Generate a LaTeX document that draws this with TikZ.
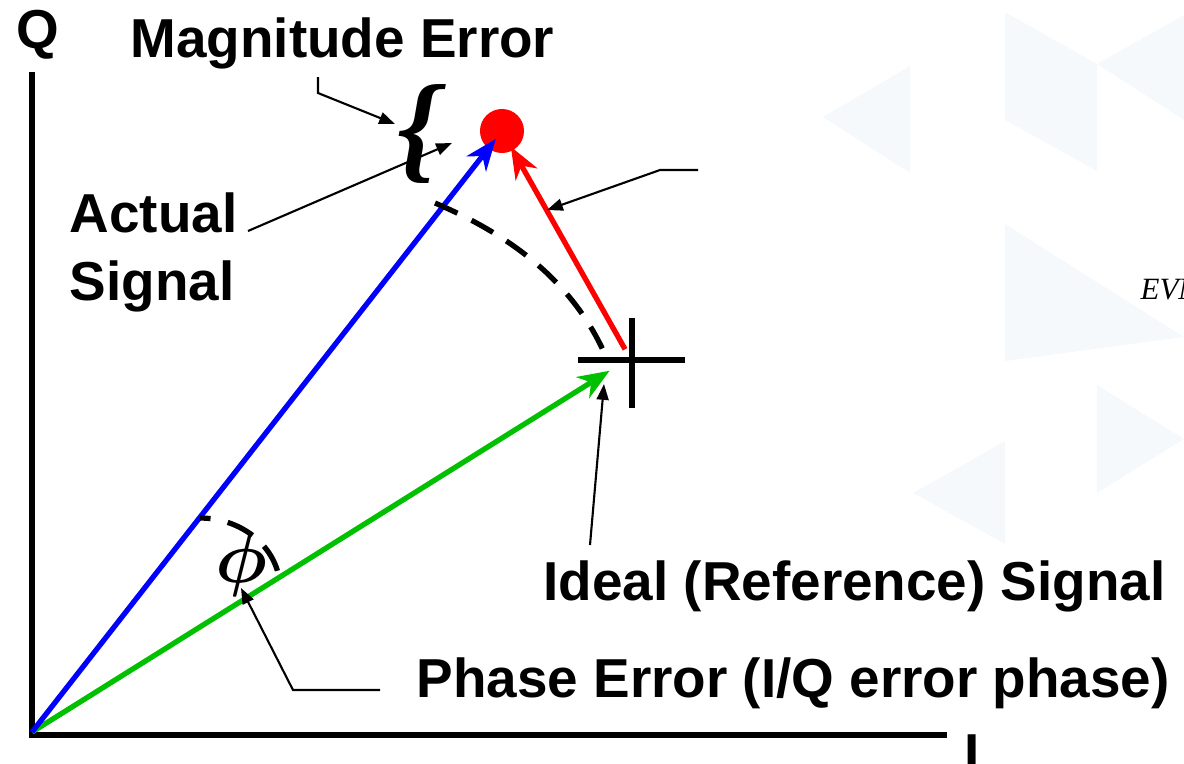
\documentclass[tikz,border=0pt]{standalone}
\usepackage{fontspec}
\setmainfont{Liberation Sans}
\newfontfamily\timesfont{Liberation Serif}
\usetikzlibrary{arrows.meta, positioning, calc}
\definecolor{vecblue}{HTML}{0000FF}
\definecolor{vecgreen}{HTML}{00C000}
\definecolor{errred}{HTML}{FF0000}
\definecolor{wmark}{HTML}{F6F9FC}

\begin{document}
\begin{tikzpicture}[x=0.01cm, y=-0.01cm, line width=1.5pt,
  lbl/.style={font=\fontsize{15.6}{19}\selectfont\bfseries, inner sep=0pt, anchor=base west},
  vec/.style={-{Stealth[length=9pt, width=7pt, inset=2.8pt]}, line width=1.5pt},
  leader/.style={-{Triangle[length=4.5pt, width=3.4pt]}, line width=0.6pt},
  arcdash/.style={dash pattern=on 7pt off 4.5pt, line width=1.5pt}]

\useasboundingbox (0,0) rectangle (1184,763);

% Watermark triangles, very faint
\fill[wmark] (823,117) -- (910,66) -- (910,173) -- cycle;
\fill[wmark] (1005,12) -- (1097,64) -- (1097,171) -- (1005,120) -- cycle;
\fill[wmark] (1097,64) -- (1184,15) -- (1184,120) -- cycle;
\fill[wmark] (1005,224) -- (1184,337) -- (1005,361) -- cycle;
\fill[wmark] (1097,385) -- (1184,439) -- (1097,493) -- cycle;
\fill[wmark] (913,493) -- (1005,441) -- (1005,544) -- cycle;

% ================================================================
% AXES
% ================================================================
\draw (32,72) -- (32,737);
\draw (29,735) -- (947,735);

\node[lbl] (qlbl) at (14,48) {Q};
\node[lbl] (ilbl) at (962,772) {I};

% ================================================================
% VECTORS
% ================================================================
\coordinate (origin) at (32,732);
\coordinate (ideal) at (630,358);
\node[circle, fill=errred, inner sep=0pt, minimum size=0.44cm] (actual) at (502,131) {};

% Reference cross
\draw (578,360) -- (685,360);
\draw (632,318) -- (632,408);

\draw[vec, vecgreen, shorten >=0.24cm] (origin) -- (ideal);
\draw[vec, vecblue, shorten >=0.1cm] (origin) -- (actual.center);
\draw[vec, errred, shorten <=0.1cm, shorten >=0.18cm] (ideal) -- (actual.center);

% Dashed arcs
\draw[arcdash] (435,203) .. controls (510,235) and (570,280) .. (603,350);
\draw[arcdash, dash pattern=on 3pt off 5pt on 8pt off 4.5pt on 8pt off 4.5pt on 8pt]
  (200,518) .. controls (238,518) and (272,542) .. (279,577);

\node[font=\fontsize{20}{22}\selectfont\boldmath, inner sep=0pt] (phi) at (241,564) {$\phi$};

% Brace for magnitude error
\node[font=\fontsize{34}{34}\timesfont\bfseries\itshape, inner sep=0pt] (brace) at (418,134) {\{};

% ================================================================
% LABELS AND LEADERS
% ================================================================
\node[lbl] (maglbl) at (128,57) {Magnitude Error};
\node[lbl] (actlbl) at (67,232) {Actual};
\node[lbl] (siglbl) at (67,300) {Signal};
\node[lbl] (idlbl) at (541,600) {Ideal (Reference) Signal};
\node[lbl] (phlbl) at (414,697) {Phase Error (I/Q error phase)};
\node[font=\fontsize{8.8}{10}\timesfont\itshape, inner sep=0pt, anchor=base west] (evm) at (1138,299) {EVM};

\coordinate (magstart) at (318,77);
\coordinate (magtip) at (395,124);
\coordinate (actstart) at (248,231);
\coordinate (acttip) at (452,143);
\coordinate (evmstart) at (698,170);
\coordinate (evmtip) at (547,210);
\coordinate (idstart) at (590,545);
\coordinate (idtip) at (604,384);
\coordinate (phstart) at (380,690);
\coordinate (phtip) at (241,588);

\draw[leader] (magstart) -- ++(0,16) -- (magtip);
\draw[leader] (actstart) -- (acttip);
\draw[leader] (evmstart) -- ++(-38,0) -- (evmtip);
\draw[leader] (idstart) -- (idtip);
\draw[leader] (phstart) -- ++(-87,0) -- (phtip);

\end{tikzpicture}
\end{document}
